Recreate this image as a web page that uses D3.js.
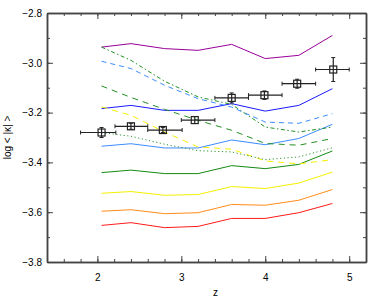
<!DOCTYPE html>
<html>
<head>
<meta charset="utf-8">
<script src="https://cdn.jsdelivr.net/npm/d3@7"></script>
<style>
  body { margin: 0; background: #fff; }
  text { font-family: "Liberation Sans", Arial, sans-serif; }
</style>
</head>
<body>
<div id="chart"></div>
<script>
// redshift grid of the model curves
const zGrid = [2.05, 2.4, 2.8, 3.2, 3.6, 4.0, 4.4, 4.8];

// model curves, log <|kappa|>
const purpleSolid   = [-2.937, -2.923, -2.943, -2.950, -2.926, -2.983, -2.970, -2.890];
const blueSolid     = [-3.184, -3.171, -3.191, -3.191, -3.164, -3.194, -3.171, -3.104];
const skySolid      = [-3.335, -3.325, -3.342, -3.342, -3.310, -3.329, -3.304, -3.247];
const greenSolid    = [-3.441, -3.431, -3.445, -3.445, -3.413, -3.425, -3.408, -3.354];
const yellowSolid   = [-3.524, -3.517, -3.532, -3.529, -3.497, -3.505, -3.483, -3.439];
const orangeSolid   = [-3.596, -3.590, -3.606, -3.602, -3.569, -3.572, -3.552, -3.509];
const redSolid      = [-3.653, -3.642, -3.662, -3.657, -3.625, -3.625, -3.602, -3.565];
const greenDashDot  = [-2.937, -2.990, -3.074, -3.137, -3.167, -3.258, -3.278, -3.258];
const skyDashed     = [-2.994, -3.023, -3.090, -3.144, -3.178, -3.238, -3.243, -3.204];
const greenDashed   = [-3.093, -3.139, -3.187, -3.231, -3.271, -3.324, -3.331, -3.304];
const yellowDashed  = [-3.177, -3.211, -3.278, -3.338, -3.347, -3.394, -3.406, -3.389];
const greenDotted   = [-3.280, -3.295, -3.327, -3.353, -3.358, -3.389, -3.378, -3.341];

// measurements with error bars
const obsZ     = [2.05, 2.40, 2.78, 3.16, 3.60, 3.99, 4.38, 4.81];
const obsZLo   = [1.80, 2.21, 2.60, 3.00, 3.40, 3.80, 4.20, 4.60];
const obsZHi   = [2.22, 2.60, 3.01, 3.40, 3.80, 4.20, 4.60, 5.00];
const obsKappa = [-3.280, -3.255, -3.270, -3.230, -3.141, -3.130, -3.084, -3.027];
const obsErr   = [0.020, 0.012, 0.010, 0.014, 0.020, 0.017, 0.018, 0.048];

const xMajor = [2, 3, 4, 5];
const yMajor = [-2.8, -3.0, -3.2, -3.4, -3.6, -3.8];

const series = [
  { values: purpleSolid,  color: '#990099', dash: null },
  { values: blueSolid,    color: '#1a1aff', dash: null },
  { values: skySolid,     color: '#3d8cff', dash: null },
  { values: greenSolid,   color: '#138a13', dash: null },
  { values: yellowSolid,  color: '#f5f000', dash: null },
  { values: orangeSolid,  color: '#ff8c1a', dash: null },
  { values: redSolid,     color: '#ff1a1a', dash: null },
  { values: greenDashDot, color: '#238f23', dash: '4,2.5,1.5,2.5' },
  { values: skyDashed,    color: '#3d8cff', dash: '5,4' },
  { values: greenDashed,  color: '#238f23', dash: '6,5' },
  { values: yellowDashed, color: '#f5f000', dash: '6,5' },
  { values: greenDotted,  color: '#2f962f', dash: '1.2,2.5' }
];

const width = 374, height = 299;
const margin = { top: 13, right: 8, bottom: 37, left: 47 };
const innerW = width - margin.left - margin.right;
const innerH = height - margin.top - margin.bottom;

const x = d3.scaleLinear().domain([1.4, 5.2]).range([0, innerW]);
const y = d3.scaleLinear().domain([-3.8, -2.8]).range([innerH, 0]);

const svg = d3.select('#chart')
  .append('svg')
  .attr('width', width)
  .attr('height', height)
  .append('g')
  .attr('transform', `translate(${margin.left}, ${margin.top})`);

// model curves
const line = d3.line()
  .x((d, i) => x(zGrid[i]))
  .y(d => y(d));

svg.selectAll('.model')
  .data(series)
  .enter()
  .append('path')
  .attr('class', 'model')
  .attr('d', d => line(d.values))
  .attr('fill', 'none')
  .attr('stroke', d => d.color)
  .attr('stroke-width', 1)
  .attr('stroke-dasharray', d => d.dash);

// measurements
const obs = obsZ.map((z, i) => ({ z, lo: obsZLo[i], hi: obsZHi[i], k: obsKappa[i], e: obsErr[i] }));
const pts = svg.selectAll('.obs').data(obs).enter().append('g').attr('class', 'obs');
const barColor = '#222';

pts.append('line')
  .attr('x1', d => x(d.lo)).attr('x2', d => x(d.hi))
  .attr('y1', d => y(d.k)).attr('y2', d => y(d.k))
  .attr('stroke', barColor).attr('stroke-width', 1.2);
[['lo'], ['hi']].forEach(([key]) => {
  pts.append('line')
    .attr('x1', d => x(d[key])).attr('x2', d => x(d[key]))
    .attr('y1', d => y(d.k) - 2).attr('y2', d => y(d.k) + 2)
    .attr('stroke', barColor).attr('stroke-width', 1);
});
pts.append('line')
  .attr('x1', d => x(d.z)).attr('x2', d => x(d.z))
  .attr('y1', d => y(d.k + d.e)).attr('y2', d => y(d.k - d.e))
  .attr('stroke', barColor).attr('stroke-width', 1.2);
pts.append('line')
  .attr('x1', d => x(d.z) - 2).attr('x2', d => x(d.z) + 2)
  .attr('y1', d => y(d.k + d.e)).attr('y2', d => y(d.k + d.e))
  .attr('stroke', barColor).attr('stroke-width', 1);
pts.append('line')
  .attr('x1', d => x(d.z) - 2).attr('x2', d => x(d.z) + 2)
  .attr('y1', d => y(d.k - d.e)).attr('y2', d => y(d.k - d.e))
  .attr('stroke', barColor).attr('stroke-width', 1);
pts.append('rect')
  .attr('x', d => x(d.z) - 3.5).attr('y', d => y(d.k) - 3.5)
  .attr('width', 7).attr('height', 7)
  .attr('fill', 'none').attr('stroke', barColor).attr('stroke-width', 1.2);

// axes: major ticks with labels, minor ticks without, ticks pointing inward
const axisColor = '#444';
const xMinor = d3.range(1.4, 5.21, 0.2);
const yMinor = d3.range(-3.8, -2.79, 0.1);

function styleAxis(g) {
  g.select('.domain').attr('stroke', axisColor).attr('stroke-width', 1.5);
  g.selectAll('.tick line').attr('stroke', axisColor).attr('stroke-width', 1);
  g.selectAll('.tick text').attr('fill', '#000').attr('font-size', '10px');
}

svg.append('g').attr('transform', `translate(0, ${innerH})`)
  .call(d3.axisBottom(x).tickValues(xMinor).tickSizeInner(-3).tickSizeOuter(0).tickFormat(''))
  .call(styleAxis);
svg.append('g').attr('transform', `translate(0, ${innerH})`)
  .call(d3.axisBottom(x).tickValues(xMajor).tickSizeInner(-6).tickSizeOuter(0).tickPadding(12).tickFormat(d3.format('d')))
  .call(styleAxis);
svg.append('g')
  .call(d3.axisTop(x).tickValues(xMinor).tickSizeInner(-3).tickSizeOuter(0).tickFormat(''))
  .call(styleAxis);
svg.append('g')
  .call(d3.axisTop(x).tickValues(xMajor).tickSizeInner(-6).tickSizeOuter(0).tickFormat(''))
  .call(styleAxis);

svg.append('g')
  .call(d3.axisLeft(y).tickValues(yMinor).tickSizeInner(-3).tickSizeOuter(0).tickFormat(''))
  .call(styleAxis);
svg.append('g')
  .call(d3.axisLeft(y).tickValues(yMajor).tickSizeInner(-6).tickSizeOuter(0).tickPadding(5).tickFormat(d3.format('.1f')))
  .call(styleAxis);
svg.append('g').attr('transform', `translate(${innerW}, 0)`)
  .call(d3.axisRight(y).tickValues(yMinor).tickSizeInner(-3).tickSizeOuter(0).tickFormat(''))
  .call(styleAxis);
svg.append('g').attr('transform', `translate(${innerW}, 0)`)
  .call(d3.axisRight(y).tickValues(yMajor).tickSizeInner(-6).tickSizeOuter(0).tickFormat(''))
  .call(styleAxis);

// axis titles
svg.append('text')
  .attr('x', innerW / 2 + 9)
  .attr('y', innerH + 34)
  .attr('text-anchor', 'middle')
  .attr('font-size', '10px')
  .text('z');

svg.append('text')
  .attr('transform', `translate(${-36}, ${innerH / 2}) rotate(-90)`)
  .attr('text-anchor', 'middle')
  .attr('font-size', '10px')
  .text('log < |κ| >');
</script>
</body>
</html>
